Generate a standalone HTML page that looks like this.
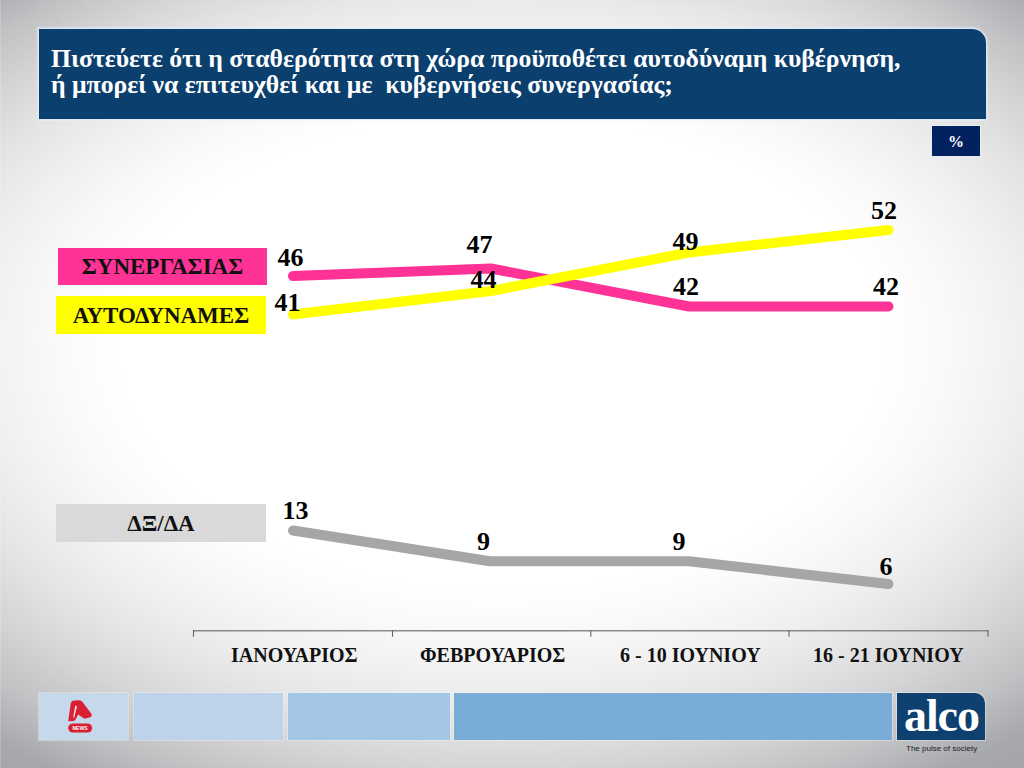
<!DOCTYPE html>
<html><head><meta charset="utf-8">
<style>
html,body{margin:0;padding:0;}
body{width:1024px;height:768px;overflow:hidden;position:relative;font-family:"Liberation Serif",serif;
background:radial-gradient(ellipse 935px 542px at 501px 338px, #ffffff 0.0%, #ffffff 41.1%, #f9f9f9 48.1%, #f0f0f1 55.6%, #e4e4e5 63.0%, #d4d4d6 70.4%, #c0c1c3 77.8%, #a7a8ac 85.2%, #a3a4a8 92.6%, #a3a4a8 100.0%) 0 0/1024px 338px no-repeat,radial-gradient(ellipse 935px 613px at 501px 0px, #ffffff 0.0%, #ffffff 41.1%, #f9f9f9 48.1%, #f0f0f1 55.6%, #e4e4e5 63.0%, #d4d4d6 70.4%, #c0c1c3 77.8%, #a7a8ac 85.2%, #a3a4a8 92.6%, #a3a4a8 100.0%) 0 338px/1024px 430px no-repeat;}
.abs{position:absolute;}
#title{left:39px;top:29px;width:947px;height:90px;background:#0b3f6e;border-top-right-radius:14px;box-shadow:0 0 0 1px rgba(215,232,250,0.85),0 0 2px 2px rgba(240,246,252,0.5);}
#title .t{position:absolute;left:12px;top:17px;color:#fff;font-weight:bold;font-size:25.7px;line-height:26.3px;white-space:pre;}
#pct{left:932px;top:126px;width:48px;height:30px;background:#02215f;color:#fff;font-weight:bold;font-size:16px;text-align:center;line-height:32px;box-shadow:0 0 0 1px #e8eef6;}
.leg{position:absolute;font-weight:bold;color:#111;text-align:center;font-size:23px;}
.lbl{position:absolute;font-weight:bold;color:#000;font-size:26px;line-height:1;white-space:nowrap;}
.ax{position:absolute;font-weight:bold;color:#111;font-size:20px;white-space:nowrap;}
.fb{position:absolute;top:693px;height:47px;box-shadow:0 0 0 1px rgba(240,245,250,0.4);}
</style></head><body>
<div class="abs" style="left:0;top:0;width:1024px;height:32px;background:linear-gradient(to right, rgba(255,255,255,0) 2%, rgba(255,255,255,0.14) 22%, rgba(255,255,255,0.2) 50%, rgba(255,255,255,0.14) 78%, rgba(255,255,255,0) 98%);"></div>
<div id="title" class="abs"><div class="t">Πιστεύετε ότι η σταθερότητα στη χώρα προϋποθέτει αυτοδύναμη κυβέρνηση,
ή μπορεί να επιτευχθεί και με  κυβερνήσεις συνεργασίας;</div></div>
<div id="pct" class="abs">%</div>
<div class="abs" style="left:0;top:0;width:1px;height:768px;background:rgba(255,255,255,0.18);"></div>

<div class="leg" style="left:58px;top:248px;width:209px;height:37px;line-height:38.6px;background:#ff3296;">ΣΥΝΕΡΓΑΣΙΑΣ</div>
<div class="leg" style="left:56px;top:296px;width:210px;height:38px;line-height:39.4px;background:#ffff00;">ΑΥΤΟΔΥΝΑΜΕΣ</div>
<div class="leg" style="left:56px;top:504px;width:210px;height:38px;line-height:39.8px;background:#d9d9d9;">ΔΞ/ΔΑ</div>

<svg class="abs" style="left:0;top:0" width="1024" height="768">
<g fill="none" stroke-width="10" stroke-linecap="round" stroke-linejoin="round">
<polyline stroke="#ff3296" points="293,276 491,268.5 689,306.5 888.5,306.5"/>
<polyline stroke="#ffff00" points="293,314.5 491,291 689,252.5 888.5,230"/>
<polyline stroke="#a6a6a6" points="293,530.5 490,561.3 689,561.3 888.5,584"/>
</g>
<g fill="none">
<line x1="193" y1="630.8" x2="988.5" y2="630.8" stroke="#8a8a8a" stroke-width="1.5"/>
<g stroke="#646464" stroke-width="1.1">
<line x1="193.5" y1="630" x2="193.5" y2="636.8"/>
<line x1="392.5" y1="630" x2="392.5" y2="636.8"/>
<line x1="590.8" y1="630" x2="590.8" y2="636.8"/>
<line x1="789" y1="630" x2="789" y2="636.8"/>
<line x1="988" y1="630" x2="988" y2="636.8"/>
</g></g>
</svg>

<div class="lbl" style="left:277.5px;top:245px;">46</div>
<div class="lbl" style="left:274.5px;top:290px;">41</div>
<div class="lbl" style="left:466.5px;top:232px;">47</div>
<div class="lbl" style="left:470.5px;top:267px;">44</div>
<div class="lbl" style="left:672.5px;top:228.5px;">49</div>
<div class="lbl" style="left:673px;top:274px;">42</div>
<div class="lbl" style="left:871px;top:198px;">52</div>
<div class="lbl" style="left:873px;top:274px;">42</div>
<div class="lbl" style="left:282.5px;top:498px;">13</div>
<div class="lbl" style="left:477px;top:529px;">9</div>
<div class="lbl" style="left:672.5px;top:529px;">9</div>
<div class="lbl" style="left:879.5px;top:554px;">6</div>

<div class="ax" style="left:231px;top:644px;">ΙΑΝΟΥΑΡΙΟΣ</div>
<div class="ax" style="left:420px;top:644px;">ΦΕΒΡΟΥΑΡΙΟΣ</div>
<div class="ax" style="left:620px;top:644px;">6 - 10 ΙΟΥΝΙΟΥ</div>
<div class="ax" style="left:813px;top:644px;">16 - 21 ΙΟΥΝΙΟΥ</div>

<div class="fb" style="left:39px;width:89px;background:#c6d9ea;"></div>
<div class="fb" style="left:134px;width:149px;background:#bcd3ea;"></div>
<div class="fb" style="left:288px;width:162px;background:#a3c6e4;"></div>
<div class="fb" style="left:454px;width:438px;background:#79acd7;"></div>
<div class="fb" style="left:897px;width:88px;background:#0e416f;border-top-right-radius:10px;"></div>
<div class="abs" style="left:904px;top:691px;color:#fff;font-family:'Liberation Serif',serif;font-weight:bold;font-size:46px;line-height:50px;letter-spacing:-1.1px;">alco</div>
<div class="abs" style="left:906px;top:742.5px;color:#222;font-family:'Liberation Sans',sans-serif;font-size:8px;line-height:12px;white-space:nowrap;">The pulse of society</div>
<svg class="abs" style="left:0;top:0" width="1024" height="768">
<path fill="#d91f32" d="M68.2 721.2 L70.8 703 Q71.3 700.6 74 700.5 L79.3 700.3 Q81.3 700.3 82.5 702 L91.4 713.8 Q92.6 716.6 89.6 717.6 L85.2 718.6 Q83.4 718.8 82.5 717.5 L78.2 714.6 L75.4 719.8 Q75 720.8 73.2 721 Z"/>
<path fill="#f8e4e8" d="M75.3 705.6 L77 706.2 L74.2 717.4 L73.1 717.5 Z"/>
<rect x="68.2" y="723.4" width="24" height="9.2" rx="4.6" fill="#d91f32"/>
<text x="80" y="730.2" fill="#fff" font-family="Liberation Sans" font-weight="bold" font-size="5.6" text-anchor="middle" textLength="15" lengthAdjust="spacingAndGlyphs">NEWS</text>
</svg>
</body></html>
